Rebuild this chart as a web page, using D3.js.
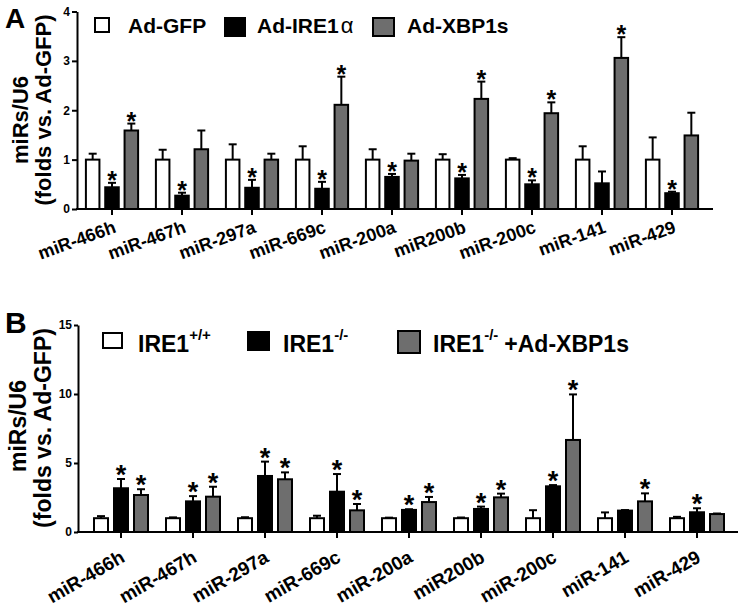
<!DOCTYPE html>
<html><head><meta charset="utf-8">
<script src="https://cdn.jsdelivr.net/npm/d3@7"></script>
<style>
body{margin:0;background:#fff}
svg{display:block}
text{font-family:"Liberation Sans",Arial,Helvetica,sans-serif;font-weight:bold;fill:#000}
</style>
</head><body>
<svg id="c" width="740" height="608"></svg>
<script>
// ---------- data ----------
const categories = ["miR-466h","miR-467h","miR-297a","miR-669c","miR-200a","miR200b","miR-200c","miR-141","miR-429"];

// Panel A
const seriesA = ["Ad-GFP","Ad-IRE1α","Ad-XBP1s"];
const ticksA = [0,1,2,3,4];
const adGFP      = [1.00,1.00,1.00,1.00,1.00,1.00,1.00,1.00,1.00];
const adGFPErr   = [0.12,0.20,0.31,0.27,0.21,0.11,0.03,0.27,0.45];
const adIRE1     = [0.44,0.27,0.43,0.41,0.65,0.62,0.50,0.52,0.32];
const adIRE1Err  = [0.09,0.06,0.16,0.14,0.06,0.07,0.08,0.24,0.03];
const adXBP1s    = [1.59,1.21,1.00,2.11,0.98,2.23,1.94,3.06,1.49];
const adXBP1sErr = [0.14,0.38,0.12,0.57,0.14,0.35,0.22,0.42,0.46];
const sigA_GFP   = [0,0,0,0,0,0,0,0,0];
const sigA_IRE1  = [1,1,1,1,1,1,1,0,1];
const sigA_XBP1s = [1,0,0,1,0,1,1,1,0];

// Panel B
const seriesB = ["IRE1+/+","IRE1-/-","IRE1-/- +Ad-XBP1s"];
const ticksB = [0,5,10,15];
const wt       = [1.00,1.00,1.00,1.00,1.00,1.00,1.00,1.00,1.00];
const wtErr    = [0.15,0.06,0.07,0.18,0.04,0.05,0.58,0.42,0.10];
const ko       = [3.17,2.22,4.06,2.92,1.60,1.67,3.31,1.55,1.43];
const koErr    = [0.67,0.38,1.04,1.28,0.05,0.17,0.09,0.04,0.29];
const koX      = [2.68,2.56,3.82,1.57,2.17,2.51,6.67,2.22,1.30];
const koXErr   = [0.42,0.72,0.50,0.46,0.37,0.27,3.30,0.58,0.04];
const sigB_wt  = [0,0,0,0,0,0,0,0,0];
const sigB_ko  = [1,1,1,1,1,1,1,0,1];
const sigB_koX = [1,1,1,1,1,1,1,1,0];

// ---------- drawing ----------
const svg = d3.select("#c");
const fills = ["#ffffff","#000000","#6e6e6e"];

function panel(cfg){
  const g = svg.append("g");
  const y = d3.scaleLinear().domain(cfg.yDomain).range(cfg.yRange);
  const x = d3.scaleBand().domain(categories).range(cfg.xRange).padding(0);
  const inner = d3.scaleBand().domain(cfg.series.map(s=>s.name))
      .range(cfg.innerRange).paddingInner(0.3).paddingOuter(0.15);
  const y0 = y(0);

  cfg.series.forEach((s,si)=>{
    const bw = inner.bandwidth();
    categories.forEach((c,i)=>{
      const cx = x(c) + x.bandwidth()/2 + inner(s.name) + bw/2;
      const v = s.values[i], e = s.errors[i];
      g.append("line").attr("x1",cx).attr("x2",cx)
        .attr("y1",y(v)).attr("y2",y(v+e))
        .attr("stroke","#000").attr("stroke-width",2);
      g.append("line").attr("x1",cx-4).attr("x2",cx+4)
        .attr("y1",y(v+e)).attr("y2",y(v+e))
        .attr("stroke","#000").attr("stroke-width",2);
      g.append("rect").attr("x",cx-bw/2).attr("y",y(v))
        .attr("width",bw).attr("height",y0-y(v))
        .attr("fill",fills[si]).attr("stroke","#000").attr("stroke-width",2);
      if(s.sig[i]){
        g.append("text").attr("x",cx).attr("y",y(v+e)+cfg.starDy)
          .attr("text-anchor","middle").attr("font-size",cfg.starSize).text("*");
      }
    });
  });

  const ya = g.append("g").attr("transform",`translate(${cfg.xAxisStart},0)`)
     .call(d3.axisLeft(y).tickValues(cfg.ticks).tickFormat(d3.format("d"))
        .tickSize(cfg.yTick).tickPadding(cfg.yPad).tickSizeOuter(0));
  ya.select(".domain").attr("stroke-width",2);
  ya.selectAll(".tick line").attr("stroke-width",2);
  ya.selectAll(".tick text").attr("font-size",cfg.yFont).attr("font-family",null);

  const xa = g.append("g").attr("transform",`translate(0,${y0})`)
     .call(d3.axisBottom(x).tickSize(6).tickFormat(""));
  xa.select(".domain").remove();
  xa.selectAll(".tick line").attr("stroke-width",2);
  g.append("line").attr("x1",cfg.xAxisStart-1).attr("x2",cfg.xAxisEnd)
    .attr("y1",y0).attr("y2",y0).attr("stroke","#000").attr("stroke-width",2);

  categories.forEach(c=>{
    const tx = x(c)+x.bandwidth()/2 + cfg.labDx;
    const ty = y0 + cfg.labDy;
    g.append("text").attr("text-anchor","end")
      .attr("transform",`translate(${tx},${ty}) rotate(${cfg.labRot})`)
      .attr("font-size",cfg.labFont).text(c);
  });

  cfg.yTitle.forEach(t=>{
    g.append("text").attr("text-anchor","middle")
     .attr("transform",`translate(${t.x},${t.y}) rotate(-90)`)
     .attr("font-size",t.size).text(t.text);
  });

  g.append("text").attr("x",5).attr("y",cfg.letterY).attr("font-size",cfg.letterSize).text(cfg.letter);
  return g;
}

panel({
  yDomain:[0,4], yRange:[209,11.5], ticks:ticksA, xRange:[77,707], innerRange:[-29,29],
  xAxisStart:77, xAxisEnd:713, yTick:5, yPad:2, yFont:12,
  series:[
    {name:seriesA[0], values:adGFP, errors:adGFPErr, sig:sigA_GFP},
    {name:seriesA[1], values:adIRE1, errors:adIRE1Err, sig:sigA_IRE1},
    {name:seriesA[2], values:adXBP1s, errors:adXBP1sErr, sig:sigA_XBP1s}
  ],
  starDy:6, starSize:25,
  labDx:5, labDy:23, labRot:-20, labFont:18,
  yTitle:[{text:"miRs/U6",x:28,y:120,size:22},{text:"(folds vs. Ad-GFP)",x:51,y:110,size:22}],
  letter:"A", letterY:28, letterSize:28
});

panel({
  yDomain:[0,15], yRange:[532,325], ticks:ticksB, xRange:[85,733], innerRange:[-30,30],
  xAxisStart:78, xAxisEnd:738, yTick:4, yPad:2, yFont:12,
  series:[
    {name:seriesB[0], values:wt, errors:wtErr, sig:sigB_wt},
    {name:seriesB[1], values:ko, errors:koErr, sig:sigB_ko},
    {name:seriesB[2], values:koX, errors:koXErr, sig:sigB_koX}
  ],
  starDy:5, starSize:27,
  labDx:5, labDy:29, labRot:-30, labFont:19,
  yTitle:[{text:"miRs/U6",x:26,y:426,size:23},{text:"(folds vs. Ad-GFP)",x:51,y:428,size:23}],
  letter:"B", letterY:333, letterSize:30
});

function legRect(x,y,w,h,fill){
  svg.append("rect").attr("x",x).attr("y",y).attr("width",w).attr("height",h)
    .attr("fill",fill).attr("stroke","#000").attr("stroke-width",2);
}
legRect(95,18,14,14,fills[0]);
svg.append("text").attr("x",128).attr("y",33).attr("font-size",21).text(seriesA[0]);
legRect(225,18,20,18,fills[1]);
const tA2 = svg.append("text").attr("x",257).attr("y",33).attr("font-size",21);
tA2.append("tspan").text(seriesA[1].slice(0,-1));
tA2.append("tspan").attr("font-weight","normal").attr("font-size",22).attr("dx",2).text(seriesA[1].slice(-1));
legRect(373,18,21,18,fills[2]);
svg.append("text").attr("x",407).attr("y",33).attr("font-size",21).text(seriesA[2]);

function supText(x, base, sup, rest){
  const t = svg.append("text").attr("x",x).attr("y",352).attr("font-size",23);
  t.append("tspan").text(base);
  t.append("tspan").attr("font-size",15).attr("dy",-12).text(sup);
  if(rest) t.append("tspan").attr("dy",12).attr("dx",6).text(rest);
}
legRect(103,333,19,15,fills[0]);
supText(138,"IRE1","+/+");
legRect(248,332,21,18,fills[1]);
supText(283,"IRE1","-/-");
legRect(398,331,22,22,fills[2]);
supText(433,"IRE1","-/-","+Ad-XBP1s");
</script>
</body></html>
